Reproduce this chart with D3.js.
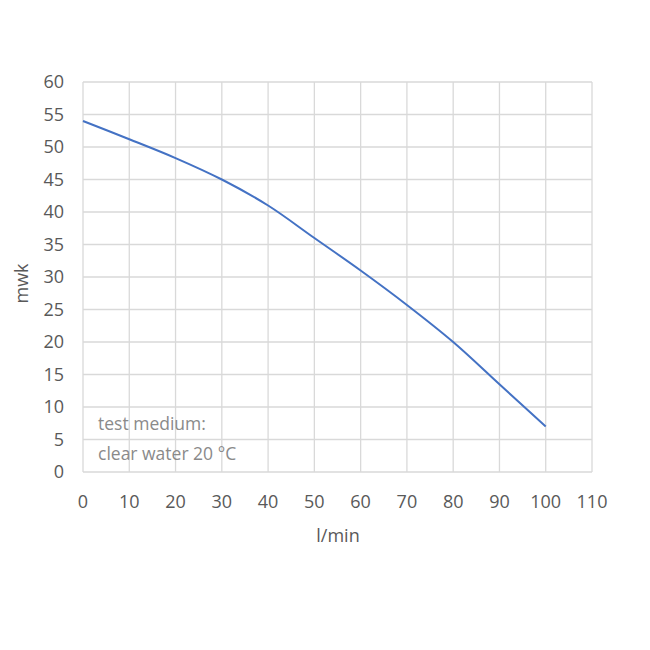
<!DOCTYPE html>
<html>
<head>
<meta charset="utf-8">
<script src="https://cdn.jsdelivr.net/npm/d3@7"></script>
<style>
  body { margin: 0; background: #fff; }
  text { font-family: "Open Sans", "Liberation Sans", sans-serif; fill: #595959; }
</style>
</head>
<body>
<div id="chart"></div>
<script>
// flow (l/min) vs head (mwk)
var flow = [0, 10, 20, 30, 40, 50, 60, 70, 80, 90, 100];
var head = [54, 51.2, 48.3, 45, 41, 36, 31, 25.7, 20, 13.5, 7];
var xTicks = [0, 10, 20, 30, 40, 50, 60, 70, 80, 90, 100, 110];
var yTicks = [0, 5, 10, 15, 20, 25, 30, 35, 40, 45, 50, 55, 60];
var note = ["test medium:", "clear water 20 °C"];

var svg = d3.select("#chart").append("svg")
    .attr("width", 650)
    .attr("height", 650);

var x = d3.scaleLinear().domain([0, 110]).range([83, 592]);
var y = d3.scaleLinear().domain([0, 60]).range([472, 82]);

// grid
svg.append("g").selectAll("line")
    .data(xTicks).enter().append("line")
    .attr("x1", d => x(d)).attr("x2", d => x(d))
    .attr("y1", y(0)).attr("y2", y(60))
    .attr("stroke", "#d9d9d9").attr("stroke-width", 1.3);

svg.append("g").selectAll("line")
    .data(yTicks).enter().append("line")
    .attr("x1", x(0)).attr("x2", x(110))
    .attr("y1", d => y(d)).attr("y2", d => y(d))
    .attr("stroke", "#d9d9d9").attr("stroke-width", 1.3);

// tick labels
svg.append("g").selectAll("text")
    .data(yTicks).enter().append("text")
    .attr("x", 64).attr("y", d => y(d))
    .attr("dy", "0.36em")
    .attr("text-anchor", "end")
    .style("font-size", "18px")
    .text(d => d);

svg.append("g").selectAll("text")
    .data(xTicks).enter().append("text")
    .attr("x", d => x(d)).attr("y", 508)
    .attr("text-anchor", "middle")
    .style("font-size", "18px")
    .text(d => d);

// axis titles
svg.append("text")
    .attr("transform", "translate(28," + y(29) + ") rotate(-90)")
    .attr("text-anchor", "middle")
    .style("font-size", "18px")
    .text("mwk");

svg.append("text")
    .attr("x", 338).attr("y", 542)
    .attr("text-anchor", "middle")
    .style("font-size", "18px")
    .text("l/min");

// curve (smoothed like the spreadsheet line)
var pts = flow.map((f, i) => [f, head[i]]);
var line = d3.line()
    .x(d => x(d[0]))
    .y(d => y(d[1]))
    .curve(d3.curveCatmullRom);

svg.append("path")
    .datum(pts)
    .attr("d", line)
    .attr("fill", "none")
    .attr("stroke", "#4472c4")
    .attr("stroke-width", 2);

// note text
svg.append("g").selectAll("text")
    .data(note).enter().append("text")
    .attr("x", 98)
    .attr("y", (d, i) => 430 + i * 30)
    .style("font-size", "17.5px")
    .style("fill", "#8a8a8a")
    .text(d => d);
</script>
</body>
</html>
